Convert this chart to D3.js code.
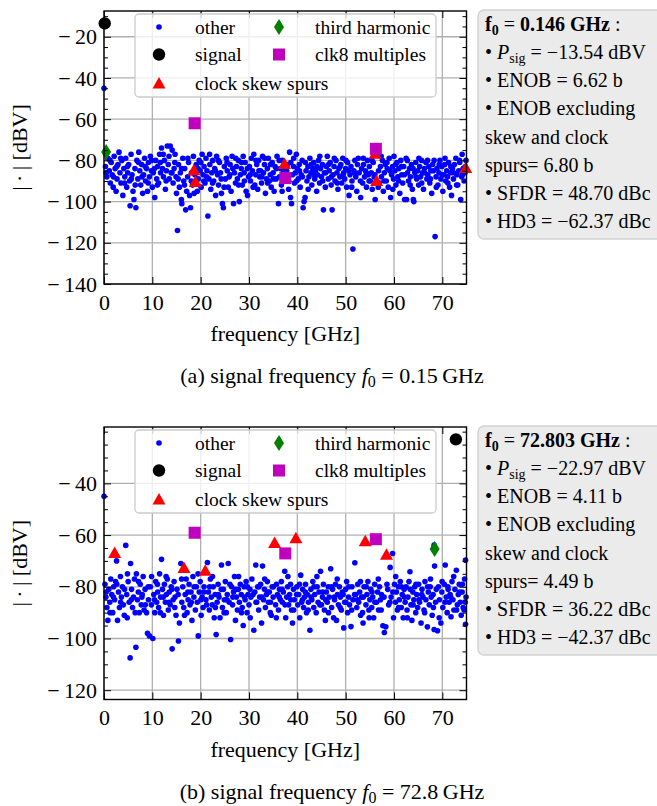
<!DOCTYPE html>
<html lang="en">
<head>
<meta charset="utf-8">
<title>ADC output spectra</title>
<script src="https://cdn.jsdelivr.net/npm/d3@7"></script>
<style>
  body { margin: 0; background: #fff; }
  svg text { font-family: "Liberation Serif", "Times New Roman", serif; fill: #000; }
  .tick text { font-size: 22px; }
  .tick line { stroke: #000; stroke-width: 1; }
</style>
</head>
<body>
<script>
// ---- data: (a) f0 = 0.146 GHz ----
var otherA = [[0,-45],[0.3,-83],[0.6,-88],[0.8,-79],[1.1,-85],[1.3,-91],[1.5,-81],[1.7,-87],[1.9,-93],
  [2.1,-78],[2.3,-84],[2.5,-95],[2.7,-89],[2.9,-82],[3.1,-76],[3.3,-86],[3.5,-91],[3.7,-80],[3.9,-97],
  [4.1,-84],[4.3,-88],[4.5,-79],[4.7,-93],[4.9,-86],[5.1,-82],[5.3,-90],[5.4,-102],[5.6,-77],[5.8,-87],[6.0,-95],
  [6.2,-99],[6.4,-84],[6.6,-103],[6.8,-80],[7.0,-89],[7.2,-76],[7.4,-85],[7.6,-92],[7.8,-82],[8.0,-96],
  [8.2,-87],[8.4,-79],[8.6,-90],[8.8,-84],[9.0,-95],[9.2,-81],[9.4,-88],[9.6,-78],[9.8,-85],[10.0,-93],
  [10.2,-86],[10.5,-98],[10.7,-80],[10.9,-89],[11.1,-83],[11.3,-91],[11.5,-77],[11.7,-86],[11.9,-74],[12.1,-84],
  [12.3,-88],[12.5,-80],[12.7,-94],[12.9,-85],[13.1,-73],[13.3,-82],[13.5,-89],[13.7,-73],[13.9,-86],[14.1,-75],
  [14.3,-91],[14.5,-84],[14.7,-77],[14.9,-88],[15.0,-96],[15.2,-114],[15.4,-82],[15.6,-93],[15.8,-86],[16.0,-99],
  [16.1,-101],[16.3,-79],[16.5,-90],[16.7,-84],[16.9,-104],[17.1,-95],[17.3,-88],[17.5,-81],[17.7,-97],[17.9,-103],[18.1,-86],
  [18.3,-92],[18.5,-78],[18.8,-87],[19.1,-82],[19.3,-95],[19.5,-89],[19.7,-80],[19.9,-85],[20.1,-93],[20.3,-77],
  [20.5,-87],[20.7,-83],[20.9,-91],[21.1,-79],[21.3,-85],[21.5,-107],[21.7,-89],[21.9,-82],[22.1,-94],[22.3,-86],
  [22.5,-80],[22.7,-90],[22.9,-84],[23.1,-97],[23.3,-78],[23.5,-87],[23.7,-92],[23.9,-81],[24.1,-86],[24.3,-96],
  [24.5,-101],[24.7,-103],[24.9,-83],[25.1,-89],[25.3,-79],[25.5,-85],[25.7,-93],[25.9,-88],[26.1,-82],[26.3,-95],
  [26.5,-78],[26.8,-101],[27.0,-86],[27.2,-91],[27.4,-83],[27.6,-89],[27.8,-80],[28.0,-100],[28.2,-87],[28.4,-84],
  [28.6,-92],[28.8,-78],[29.0,-86],[29.2,-81],[29.4,-95],[29.7,-97],[29.9,-88],[30.1,-83],[30.3,-90],[30.5,-79],
  [30.7,-85],[31.0,-77],[31.2,-92],[31.4,-87],[31.6,-82],[31.8,-94],[32.0,-80],[32.2,-88],[32.4,-85],[32.6,-91],
  [32.8,-78],[33.0,-86],[33.2,-82],[33.4,-96],[33.6,-89],[33.8,-84],[34.0,-79],[34.2,-90],[34.4,-87],[34.6,-93],
  [34.8,-81],[35.0,-86],[35.2,-95],[35.4,-83],[35.6,-89],[35.8,-78],[36.1,-101],[36.3,-88],[36.5,-84],[36.7,-92],
  [36.9,-80],[37.1,-86],[37.4,-90],[37.8,-85],[38.0,-82],[38.2,-94],[38.4,-76],[38.6,-98],[38.8,-101],[39.0,-87],[39.2,-83],
  [39.4,-91],[39.6,-86],[39.8,-77],[40.0,-84],[40.2,-89],[40.4,-82],[40.6,-93],[40.8,-87],[41.0,-80],[41.2,-103],
  [41.4,-100],[41.6,-98],[41.8,-85],[42.0,-90],[42.2,-83],[42.4,-88],[42.6,-79],[42.8,-86],[43.0,-92],[43.2,-84],
  [43.4,-81],[43.6,-89],[43.8,-85],[44.0,-95],[44.2,-87],[44.4,-80],[44.6,-91],[44.8,-84],[45.0,-88],[45.2,-82],
  [45.4,-104],[45.6,-86],[45.8,-93],[46.0,-83],[46.2,-78],[46.4,-89],[46.6,-85],[46.8,-81],[47.0,-92],[47.2,-104],
  [47.4,-87],[47.6,-83],[47.8,-90],[48.0,-80],[48.2,-86],[48.4,-94],[48.6,-84],[48.8,-88],[49.0,-82],[49.2,-91],
  [49.4,-79],[49.6,-86],[49.8,-89],[50.0,-84],[50.2,-93],[50.4,-81],[50.7,-97],[50.9,-87],[51.1,-83],[51.3,-90],
  [51.5,-123],[51.7,-85],[51.9,-80],[52.1,-88],[52.3,-95],[52.6,-79],[52.8,-86],[53.1,-98],[53.3,-84],[53.5,-91],
  [53.7,-82],[53.9,-88],[54.1,-85],[54.3,-93],[54.5,-80],[54.7,-87],[54.9,-83],[55.1,-90],[55.3,-86],[55.5,-94],
  [55.7,-81],[55.9,-88],[56.1,-99],[56.6,-77],[56.8,-85],[57.0,-91],[57.2,-83],[57.4,-88],[57.6,-80],[57.8,-95],
  [58.0,-86],[58.2,-82],[58.4,-90],[58.6,-84],[58.8,-93],[59.0,-79],[59.3,-98],[59.5,-87],[59.7,-83],[59.9,-89],
  [60.0,-78],[60.2,-85],[60.4,-92],[60.6,-81],[60.8,-88],[61.0,-84],[61.2,-96],[61.4,-80],[61.6,-87],[61.8,-91],
  [62.0,-83],[62.2,-99],[62.5,-79],[62.6,-99],[62.8,-86],[63.0,-90],[63.2,-84],[63.4,-88],[63.6,-82],[63.8,-94],
  [64.0,-99],[64.1,-100],[64.3,-86],[64.5,-81],[64.7,-89],[64.9,-85],[65.1,-92],[65.3,-83],[65.5,-88],[65.7,-80],
  [65.9,-86],[66.1,-94],[66.3,-84],[66.6,-81],[66.8,-89],[67.0,-87],[67.2,-83],[67.4,-91],[67.6,-85],[67.8,-96],
  [68.0,-82],[68.3,-80],[68.5,-117],[68.7,-88],[68.9,-84],[69.1,-92],[69.3,-86],[69.5,-80],[69.7,-89],[69.9,-83],
  [70.1,-95],[70.3,-87],[70.5,-82],[70.7,-90],[70.9,-85],[71.1,-88],[71.3,-81],[71.5,-93],[71.7,-86],[71.9,-97],
  [72.1,-84],[72.3,-89],[72.5,-82],[72.8,-79],[73.0,-87],[73.2,-92],[73.4,-85],[73.6,-81],[73.8,-99],[74.0,-88],
  [74.1,-77],[74.3,-84],[74.5,-90],[74.7,-86],[74.9,-80],
  [0.45,-86],[1.25,-80],[1.95,-88],[2.65,-83],[3.45,-79],[4.25,-91],[4.85,-83],[5.65,-89],[6.45,-92],[7.15,-81],
  [7.85,-88],[8.55,-83],[9.15,-91],[9.85,-80],[10.45,-84],[11.05,-92],[11.65,-81],[12.25,-77],[12.85,-90],[13.45,-78],
  [14.05,-86],[14.65,-81],[15.35,-89],[16.05,-84],[16.65,-92],[17.35,-79],[18.05,-90],[18.65,-96],[19.45,-84],[20.05,-81],
  [20.65,-90],[21.25,-88],[21.85,-77],[22.45,-91],[23.05,-85],[23.65,-80],[24.25,-89],[24.85,-93],[25.45,-81],[26.05,-87],
  [26.65,-84],[27.25,-79],[27.85,-92],[28.45,-81],[29.05,-90],[29.65,-84],[30.25,-87],[30.85,-93],[31.45,-80],[32.05,-85],
  [32.65,-88],[33.25,-79],[33.85,-91],[34.45,-82],[35.05,-89],[35.65,-84],[36.25,-80],[36.85,-95],[37.45,-84],[38.05,-88],
  [38.65,-81],[39.25,-79],[39.85,-90],[40.45,-85],[41.05,-88],[41.65,-81],[42.25,-94],[42.85,-82],[43.45,-87],[44.05,-83],
  [44.65,-78],[45.25,-90],[45.85,-86],[46.45,-82],[47.05,-88],[47.65,-79],[48.25,-91],[48.85,-83],[49.45,-87],[50.05,-80],
  [50.65,-85],[51.25,-93],[51.85,-86],[52.45,-82],[53.05,-90],[53.65,-79],[54.25,-86],[54.85,-90],[55.45,-80],[56.05,-87],
  [56.75,-93],[57.35,-78],[57.95,-90],[58.55,-81],[59.15,-85],[59.75,-94],[60.35,-82],[60.95,-90],[61.55,-83],[62.15,-87],
  [62.75,-80],[63.35,-92],[63.95,-84],[64.55,-88],[65.15,-79],[65.75,-91],[66.35,-86],[66.95,-80],[67.55,-89],[68.15,-85],
  [68.75,-93],[69.35,-82],[69.95,-87],[70.55,-79],[71.15,-91],[71.75,-83],[72.35,-86],[72.95,-92],[73.55,-80],[74.15,-87],[74.75,-83]];
var signalA = [[0.146,-13.54]];
var skewA = [[18.6,-84.5],[18.9,-90.2],[37.35,-81.5],[37.65,-88],[56.1,-76.5],[56.4,-89.8],[74.85,-83.5]];
var thirdA = [[0.44,-75.9]];
var clk8A = [[18.75,-62.0],[37.5,-88.6],[56.25,-74.4]];
var infoA = {f0: "0.146", psig: "\u221213.54", enob: "6.62", enobx: "6.80", sfdr: "48.70", hd3: "\u221262.37"};

// ---- data: (b) f0 = 72.803 GHz ----
var otherB = [[0,-45],[0.2,-79],[0.4,-84],[0.6,-88],[0.8,-93],[1.0,-81],[1.2,-86],[1.4,-77],[1.6,-83],[1.8,-90],[2.0,-80],
  [2.2,-85],[2.4,-78],[2.6,-70],[2.8,-93],[3.0,-82],[3.2,-88],[3.4,-76],[3.6,-84],[3.8,-80],[4.0,-87],[4.2,-91],
  [4.5,-64],[4.7,-83],[4.8,-92],[5.0,-78],[5.2,-86],[5.4,-107.5],[5.5,-71],[5.7,-81],[5.9,-88],[6.1,-84],[6.3,-77],
  [6.6,-103.4],[6.7,-75],[6.9,-85],[7.1,-82],[7.3,-90],[7.5,-79],[7.7,-87],[7.9,-83],[8.1,-76],[8.3,-89],[8.5,-81],
  [8.8,-90],[9.0,-98],[9.2,-85],[9.4,-99],[9.6,-80],[9.8,-87],[10.1,-100],[10.3,-83],[10.5,-90],[10.7,-78],[10.9,-86],[11.1,-82],
  [11.3,-88],[11.5,-75],[11.7,-84],[11.9,-69.4],[12.1,-81],[12.3,-91],[12.5,-79],[12.7,-86],[12.9,-83],[13.1,-77],[13.3,-89],
  [13.5,-82],[13.7,-87],[13.9,-80],[14.1,-104],[14.3,-85],[14.5,-78],[14.7,-84],[14.9,-91],[15.1,-81],[15.4,-101],
  [15.6,-94],[15.9,-71],[16.1,-86],[16.3,-80],[16.5,-88],[16.8,-83],[17.0,-77],[17.2,-90],[17.4,-85],[17.6,-79],
  [17.8,-87],[18.0,-82],[18.2,-93],[18.4,-76],[18.6,-84],[18.9,-89],[19.1,-80],[19.3,-86],[19.5,-99],[19.7,-82],
  [19.9,-78],[20.1,-91],[20.3,-84],[20.5,-88],[20.7,-80],[21.1,-85],[21.4,-70.6],[21.6,-82],[21.8,-89],[22.0,-77],
  [22.2,-84],[22.4,-87],[22.6,-80],[22.8,-92],[23.0,-83],[23.2,-98.5],[23.4,-86],[23.6,-79],[23.8,-84],[24.0,-92],
  [24.3,-71.6],[24.5,-88],[24.7,-81],[24.9,-85],[25.1,-78],[25.3,-90],[25.5,-83],[25.7,-71],[25.9,-86],[26.2,-100.4],
  [26.4,-80],[26.6,-87],[26.8,-82],[27.0,-76],[27.2,-93],[27.4,-84],[27.6,-89],[27.8,-81],[28.0,-86],[28.2,-79],
  [28.4,-83],[28.6,-88],[28.8,-95],[29.0,-80],[29.2,-85],[29.4,-78],[29.6,-90],[29.8,-83],[30.0,-87],[30.2,-81],
  [30.4,-84],[30.6,-77],[31.0,-96.8],[31.2,-82],[31.4,-71.6],[31.6,-86],[31.8,-80],[32.0,-89],[32.2,-84],[32.4,-79],
  [32.6,-94],[32.8,-72],[33.0,-85],[33.2,-81],[33.4,-88],[33.6,-83],[33.8,-78],[34.0,-86],[34.2,-82],[34.4,-90],
  [34.6,-91],[34.8,-80],[35.0,-84],[35.5,-87],[35.7,-79],[35.9,-83],[36.1,-89],[36.3,-81],[36.5,-85],[36.7,-78],
  [36.9,-86],[37.1,-82],[37.4,-74],[37.6,-92],[37.8,-84],[38.0,-80],[38.2,-87],[38.4,-83],[38.6,-79],[38.8,-89],
  [39.0,-94],[39.2,-81],[39.4,-85],[39.9,-80],[40.1,-87],[40.3,-83],[40.5,-92],[40.7,-75.5],[40.9,-86],[41.1,-81],
  [41.3,-88],[41.5,-84],[41.7,-79],[41.9,-90],[42.1,-83],[42.3,-86],[42.6,-96.8],[42.8,-81],[43.0,-85],[43.2,-78],
  [43.4,-88],[43.6,-83],[43.9,-90],[44.1,-80],[44.3,-86],[44.5,-82],[44.8,-74],[45.0,-87],[45.2,-84],[45.4,-79],
  [45.6,-89],[45.8,-93],[46.0,-82],[46.2,-86],[46.4,-80],[46.6,-84],[46.9,-73],[47.1,-88],[47.3,-81],[47.5,-92],
  [47.7,-85],[47.9,-79],[48.1,-93],[48.3,-83],[48.5,-87],[48.7,-80],[48.9,-84],[49.1,-89],[49.3,-82],[49.6,-95.9],
  [49.8,-86],[50.0,-81],[50.2,-78],[50.4,-90],[50.6,-84],[50.8,-87],[51.1,-95.4],[51.3,-80],[51.5,-85],[51.9,-70.7],
  [52.1,-83],[52.3,-88],[52.5,-79],[52.7,-86],[52.9,-82],[53.1,-91],[53.3,-84],[53.5,-90],[53.6,-94],[53.8,-80],
  [54.2,-87],[54.4,-83],[54.6,-78],[54.8,-89],[55.0,-85],[55.2,-81],[55.4,-88],[55.6,-84],[55.8,-92],[56.0,-79],
  [56.4,-86],[56.6,-82],[56.8,-89],[57.0,-80],[57.2,-85],[57.4,-83],[57.7,-95.1],[58.0,-97.7],[58.3,-95.5],[58.7,-81],
  [58.9,-87],[59.2,-72.5],[59.4,-84],[59.7,-67.1],[59.9,-92],[60.1,-79],[60.3,-86],[60.5,-82],[60.7,-89],[60.9,-80],
  [61.1,-85],[61.3,-78],[61.5,-88],[61.7,-83],[61.9,-92],[62.1,-81],[62.3,-86],[62.5,-80],[62.7,-89],[62.9,-84],
  [63.1,-78],[63.3,-74.2],[63.5,-87],[63.7,-93],[63.9,-82],[64.1,-85],[64.3,-80],[64.5,-90],[64.7,-83],[64.9,-88],
  [65.1,-79],[65.3,-86],[65.6,-94],[65.8,-81],[66.0,-84],[66.2,-89],[66.4,-78],[66.6,-85],[66.9,-95.5],[67.1,-82],
  [67.3,-87],[67.5,-80],[67.7,-84],[67.9,-91],[68.1,-83],[68.3,-63.9],[68.4,-72],[68.3,-96.5],[68.6,-86],[69.0,-97],
  [69.2,-80],[69.4,-85],[69.7,-94],[69.9,-82],[70.1,-88],[70.4,-79],[70.6,-71.6],[70.8,-84],[71.0,-90],[71.2,-81],
  [71.4,-86],[71.6,-83],[71.8,-91.6],[72.0,-78],[72.2,-85],[72.4,-89],[72.6,-81],[72.9,-73.6],[73.1,-87],[73.3,-83],
  [73.5,-79],[73.7,-86],[73.9,-91],[74.1,-82],[74.3,-88],[74.5,-89],[74.6,-77],[74.8,-69.7],[74.8,-94.5],[74.9,-84],
  [0.45,-82],[1.25,-90],[1.95,-84],[2.65,-79],[3.45,-86],[4.25,-81],[4.85,-75],[5.65,-85],[6.45,-90],[7.15,-78],
  [7.85,-84],[8.55,-87],[9.15,-80],[9.85,-76],[10.45,-85],[11.05,-79],[11.65,-90],[12.25,-84],[12.85,-76],[13.45,-86],
  [14.05,-81],[14.65,-88],[15.35,-83],[16.05,-77],[16.65,-91],[17.35,-82],[18.05,-86],[18.65,-80],[19.45,-75],[20.05,-85],
  [20.65,-82],[21.25,-87],[21.85,-80],[22.45,-76],[23.05,-88],[23.65,-83],[24.25,-81],[24.85,-90],[25.45,-85],[26.05,-79],
  [26.65,-84],[27.25,-81],[27.85,-76],[28.45,-90],[29.05,-84],[29.65,-80],[30.25,-92],[30.85,-83],[31.45,-86],[32.05,-80],
  [32.65,-84],[33.25,-77],[33.85,-82],[34.45,-86],[35.05,-80],[35.65,-92],[36.25,-84],[36.85,-81],[37.45,-87],[38.05,-76],
  [38.65,-85],[39.25,-89],[39.85,-83],[40.45,-79],[41.05,-85],[41.65,-82],[42.25,-89],[42.85,-84],[43.45,-80],[44.05,-76],
  [44.65,-87],[45.25,-82],[45.85,-85],[46.45,-90],[47.05,-80],[47.65,-84],[48.25,-77],[48.85,-88],[49.45,-83],[50.05,-86],
  [50.65,-80],[51.25,-89],[51.85,-83],[52.45,-85],[53.05,-78],[53.65,-84],[54.25,-80],[54.85,-92],[55.45,-82],[56.05,-86],
  [56.75,-77],[57.35,-89],[57.95,-84],[58.55,-79],[59.15,-86],[59.75,-82],[60.35,-76],[60.95,-88],[61.55,-80],[62.15,-84],
  [62.75,-92],[63.35,-81],[63.95,-87],[64.55,-79],[65.15,-85],[65.75,-83],[66.35,-90],[66.95,-80],[67.55,-77],[68.15,-88],
  [68.75,-81],[69.35,-92],[69.95,-78],[70.55,-86],[71.15,-80],[71.75,-84],[72.35,-76],[72.95,-89],[73.55,-82],[74.15,-79],[74.75,-86]];
var signalB = [[72.803,-22.97]];
var skewB = [[2.2,-66.7],[16.55,-72.5],[20.95,-73.6],[35.3,-62.9],[39.7,-61.0],[54.05,-62.2],[58.45,-67.4]];
var thirdB = [[68.4,-65.34]];
var clk8B = [[18.75,-59.1],[37.5,-67.1],[56.25,-61.6]];
var infoB = {f0: "72.803", psig: "\u221222.97", enob: "4.11", enobx: "4.49", sfdr: "36.22", hd3: "\u221242.37"};

// ---- axes / labels ----
var xTicks = [0, 10, 20, 30, 40, 50, 60, 70];
var yTicksA = [-140, -120, -100, -80, -60, -40, -20];
var yTicksB = [-120, -100, -80, -60, -40];
var legendNames = ["other", "signal", "clock skew spurs", "third harmonic", "clk8 multiples"];

var W = 657, H = 806;
var svg = d3.select("body").append("svg").attr("width", W).attr("height", H);

var panels = [
  {top: 11, bottom: 284, yDomain: [-140, -7.5], yTicks: yTicksA,
   other: otherA, signal: signalA, skew: skewA, third: thirdA, clk8: clk8A, info: infoA,
   tag: "(a)", capF: "0.15"},
  {top: 427, bottom: 699.5, yDomain: [-123.6, -18.2], yTicks: yTicksB,
   other: otherB, signal: signalB, skew: skewB, third: thirdB, clk8: clk8B, info: infoB,
   tag: "(b)", capF: "72.8"}
];

var left = 104, right = 466.5;
var fmt = function(d) { return d < 0 ? "\u2212\u2009" + Math.abs(d) : String(d); };

// marker painters
function triangle(sel) { sel.attr("d", "M0,-6L6.5,5.5L-6.5,5.5Z").attr("fill", "#ff0000"); }
function diamond(sel) { sel.attr("d", "M0,-8L5,0L0,8L-5,0Z").attr("fill", "#008000"); }
function square(sel) { sel.attr("d", "M-6,-6H6V6H-6Z").attr("fill", "#bf00bf"); }

panels.forEach(function(p) {
  var x = d3.scaleLinear().domain([0, 75]).range([left, right]);
  var y = d3.scaleLinear().domain(p.yDomain).range([p.bottom, p.top]);
  var g = svg.append("g");

  // grid
  g.append("g").selectAll("line").data(xTicks).join("line")
    .attr("x1", function(d) { return x(d); }).attr("x2", function(d) { return x(d); })
    .attr("y1", p.top).attr("y2", p.bottom)
    .attr("stroke", "#b0b0b0").attr("stroke-width", 1.3);
  g.append("g").selectAll("line").data(p.yTicks).join("line")
    .attr("x1", left).attr("x2", right)
    .attr("y1", function(d) { return y(d); }).attr("y2", function(d) { return y(d); })
    .attr("stroke", "#b0b0b0").attr("stroke-width", 1.3);

  // data
  g.append("g").selectAll("circle").data(p.other).join("circle")
    .attr("cx", function(d) { return x(d[0]); }).attr("cy", function(d) { return y(d[1]); })
    .attr("r", 2.8).attr("fill", "#0000ff");
  g.append("g").selectAll("circle").data(p.signal).join("circle")
    .attr("cx", function(d) { return x(d[0]); }).attr("cy", function(d) { return y(d[1]); })
    .attr("r", 6.2).attr("fill", "#000");
  g.append("g").selectAll("path").data(p.skew).join("path")
    .attr("transform", function(d) { return "translate(" + x(d[0]) + "," + y(d[1]) + ")"; })
    .call(triangle);
  g.append("g").selectAll("path").data(p.third).join("path")
    .attr("transform", function(d) { return "translate(" + x(d[0]) + "," + y(d[1]) + ")"; })
    .call(diamond);
  g.append("g").selectAll("path").data(p.clk8).join("path")
    .attr("transform", function(d) { return "translate(" + x(d[0]) + "," + y(d[1]) + ")"; })
    .call(square);

  // axes
  var minor = d3.range(Math.ceil(p.yDomain[0] / 5) * 5, p.yDomain[1], 5)
    .filter(function(d) { return p.yTicks.indexOf(d) < 0; });
  function clean(a) { a.select(".domain").remove(); }
  g.append("g").attr("transform", "translate(0," + p.bottom + ")")
    .call(d3.axisBottom(x).tickValues(xTicks).tickSize(-7).tickPadding(10).tickFormat(fmt)).call(clean);
  g.append("g").attr("transform", "translate(0," + p.top + ")")
    .call(d3.axisTop(x).tickValues(xTicks).tickSize(-7).tickFormat("")).call(clean);
  g.append("g").attr("transform", "translate(" + left + ",0)")
    .call(d3.axisLeft(y).tickValues(p.yTicks).tickSize(-7).tickPadding(7).tickFormat(fmt)).call(clean);
  g.append("g").attr("transform", "translate(" + left + ",0)")
    .call(d3.axisLeft(y).tickValues(minor).tickSize(-4).tickFormat("")).call(clean);
  g.append("g").attr("transform", "translate(" + right + ",0)")
    .call(d3.axisRight(y).tickValues(p.yTicks).tickSize(-7).tickFormat("")).call(clean);
  g.append("g").attr("transform", "translate(" + right + ",0)")
    .call(d3.axisRight(y).tickValues(minor).tickSize(-4).tickFormat("")).call(clean);
  g.append("rect").attr("x", left).attr("y", p.top)
    .attr("width", right - left).attr("height", p.bottom - p.top)
    .attr("fill", "none").attr("stroke", "#000").attr("stroke-width", 1.4);

  // axis labels
  g.append("text").attr("x", (left + right) / 2).attr("y", p.bottom + 57)
    .attr("text-anchor", "middle").attr("font-size", 22).text("frequency [GHz]");
  g.append("text").attr("transform", "translate(27," + (p.top + p.bottom) / 2 + ") rotate(-90)")
    .attr("text-anchor", "middle").attr("font-size", 22).text("|\u2009\u00b7\u2009| [dBV]");

  // legend
  var lt = p.top + 3;
  g.append("rect").attr("x", 135).attr("y", lt).attr("width", 301).attr("height", 83).attr("rx", 4)
    .attr("fill", "#fff").attr("fill-opacity", 0.8).attr("stroke", "#cccccc").attr("stroke-width", 1.3);
  var rows = [lt + 13, lt + 40.5, lt + 69];
  var slots = [[159, rows[0]], [159, rows[1]], [159, rows[2]], [279, rows[0]], [279, rows[1]]];
  legendNames.forEach(function(name, i) {
    var s = slots[i];
    var m = g.append("g").attr("transform", "translate(" + s[0] + "," + s[1] + ")");
    if (i === 0) m.append("circle").attr("r", 2.8).attr("fill", "#0000ff");
    if (i === 1) m.append("circle").attr("r", 6.2).attr("fill", "#000");
    if (i === 2) m.append("path").call(triangle);
    if (i === 3) m.append("path").call(diamond);
    if (i === 4) m.append("path").call(square);
    g.append("text").attr("x", s[0] + 36).attr("y", s[1] + 6.5).attr("font-size", 19.5).text(name);
  });

  // info box
  var bt = p.top - 1;
  g.append("rect").attr("x", 478).attr("y", bt).attr("width", 200).attr("height", 229).attr("rx", 6)
    .attr("fill", "#ebebeb").attr("stroke", "#d2d2d2").attr("stroke-width", 1.3);
  var info = p.info;
  var lines = [
    [{t: "f", b: 1}, {t: "0", b: 1, sub: 1}, {t: " = "}, {t: info.f0 + " GHz", b: 1}, {t: " :"}],
    [{t: "\u2022 "}, {t: "P", i: 1}, {t: "sig", sub: 1}, {t: " = " + info.psig + " dBV"}],
    [{t: "\u2022 ENOB = " + info.enob + " b"}],
    [{t: "\u2022 ENOB excluding"}],
    [{t: "skew and clock"}],
    [{t: "spurs= " + info.enobx + " b"}],
    [{t: "\u2022 SFDR = " + info.sfdr + " dBc"}],
    [{t: "\u2022 HD3 = " + info.hd3 + " dBc"}]
  ];
  lines.forEach(function(segs, k) {
    var tx = g.append("text").attr("x", 485).attr("y", bt + 21 + 28.15 * k).attr("font-size", 20);
    var shifted = false;
    segs.forEach(function(s) {
      var ts = tx.append("tspan").text(s.t);
      if (s.b) ts.attr("font-weight", "bold");
      if (s.i) ts.attr("font-style", "italic");
      if (s.sub) { ts.attr("font-size", 14).attr("dy", 4); shifted = true; }
      else if (shifted) { ts.attr("dy", -4); shifted = false; }
    });
  });

  // caption
  var cap = g.append("text").attr("x", 332).attr("y", p.bottom + 99)
    .attr("text-anchor", "middle").attr("font-size", 22);
  cap.append("tspan").text(p.tag + " signal frequency ");
  cap.append("tspan").attr("font-style", "italic").text("f");
  cap.append("tspan").attr("font-size", 16).attr("dy", 4).text("0");
  cap.append("tspan").attr("dy", -4).text(" = " + p.capF + "\u2009GHz");
});
</script>
</body>
</html>
